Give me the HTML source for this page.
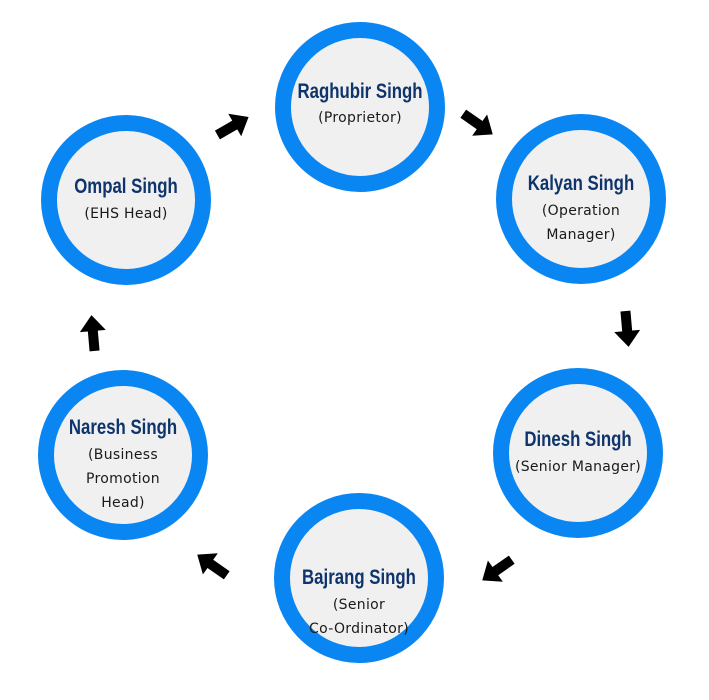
<!DOCTYPE html>
<html><head><style>
body{margin:0;width:709px;height:700px;background:#fff;position:relative;overflow:hidden}
.c{position:absolute;width:138px;height:138px;border:16px solid #0a86f3;border-radius:50%;background:#f0f0f0}
.t{position:absolute;width:200px;text-align:center;transform:translate(-50%,-50%);white-space:nowrap}
.n{font-family:"Liberation Sans Narrow","Liberation Sans",sans-serif;font-weight:bold;font-size:21px;color:#0f346c;transform:translate(-50%,-50%) scaleX(0.8)}
.s{font-family:"DejaVu Sans",Verdana,sans-serif;font-size:14px;color:#1a1a1a;letter-spacing:0.3px}
svg{position:absolute;left:0;top:0}
</style></head><body>
<div class="c" style="left:275px;top:22px"></div>
<div class="c" style="left:496px;top:114px"></div>
<div class="c" style="left:493px;top:368px"></div>
<div class="c" style="left:274px;top:493px"></div>
<div class="c" style="left:38px;top:370px"></div>
<div class="c" style="left:41px;top:115px"></div>

<div class="t n" style="left:360px;top:92px">Raghubir Singh</div>
<div class="t s" style="left:360px;top:118px">(Proprietor)</div>

<div class="t n" style="left:581px;top:184px">Kalyan Singh</div>
<div class="t s" style="left:581px;top:211px">(Operation</div>
<div class="t s" style="left:581px;top:235px">Manager)</div>

<div class="t n" style="left:578px;top:440px">Dinesh Singh</div>
<div class="t s" style="left:578px;top:467px">(Senior Manager)</div>

<div class="t n" style="left:359px;top:578px">Bajrang Singh</div>
<div class="t s" style="left:359px;top:605px">(Senior</div>
<div class="t s" style="left:359px;top:629px">Co-Ordinator)</div>

<div class="t n" style="left:123px;top:428px">Naresh Singh</div>
<div class="t s" style="left:123px;top:455px">(Business</div>
<div class="t s" style="left:123px;top:479px">Promotion</div>
<div class="t s" style="left:123px;top:503px">Head)</div>

<div class="t n" style="left:126px;top:187px">Ompal Singh</div>
<div class="t s" style="left:126px;top:214px">(EHS Head)</div>

<svg width="709" height="700">
<defs><polygon id="a" points="-18,-5 2,-5 2,-13 18,0 2,13 2,5 -18,5" fill="#000"/></defs>
<use href="#a" transform="translate(233,126) rotate(-30)"/>
<use href="#a" transform="translate(478,124) rotate(35)"/>
<use href="#a" transform="translate(627,329) rotate(85)"/>
<use href="#a" transform="translate(497,570) rotate(145)"/>
<use href="#a" transform="translate(212,565) rotate(215)"/>
<use href="#a" transform="translate(93,333) rotate(-95)"/>
</svg>
</body></html>
